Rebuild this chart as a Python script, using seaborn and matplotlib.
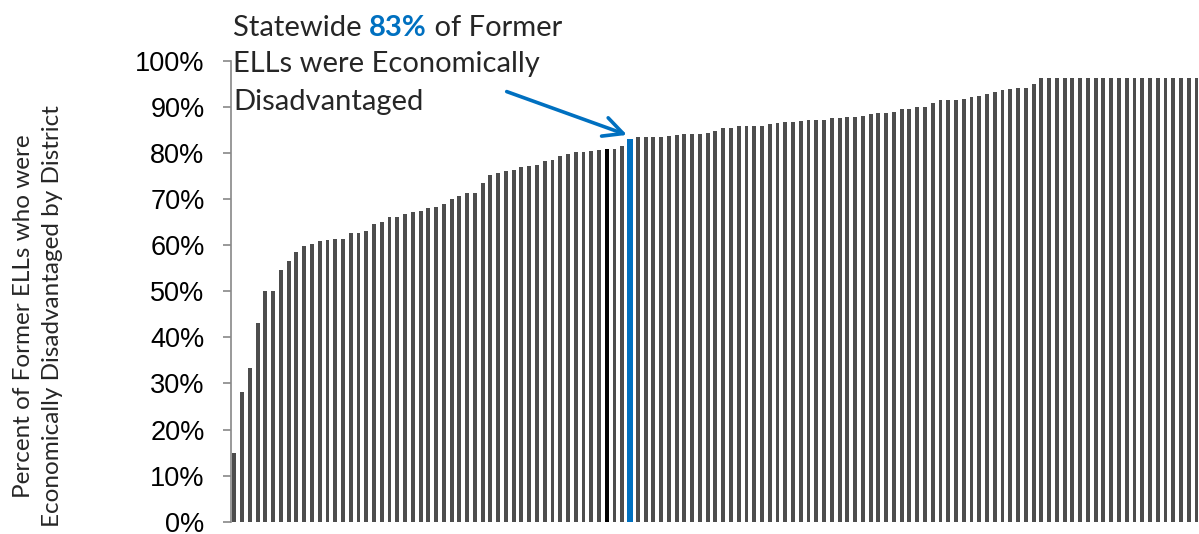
import pandas as pd
import seaborn as sns
from matplotlib import pyplot as plt
from matplotlib.ticker import PercentFormatter

# percent of former ELLs who were economically disadvantaged, districts sorted
districts_below = [15.0, 28.1, 33.3, 43.0, 50.0, 50.0, 54.5, 56.6, 58.6, 59.7,
                   60.2, 60.8, 61.1, 61.3, 61.3, 62.6, 62.6, 63.1, 64.5, 65.1,
                   66.1, 66.2, 66.8, 67.2, 67.5, 68.0, 68.3, 68.9, 69.9, 70.7,
                   71.2, 71.2, 73.5, 75.1, 75.7, 76.0, 76.2, 76.9, 77.2, 77.4,
                   78.2, 78.5, 79.3, 79.7, 80.2, 80.2, 80.5, 80.7, 80.9, 80.9,
                   81.6]
statewide_pct = 83.0
districts_above = [83.4, 83.4, 83.4, 83.4, 83.7, 83.9, 84.1, 84.1, 84.2, 84.4,
                   84.8, 85.5, 85.5, 85.9, 85.9, 85.9, 85.9, 86.2, 86.5, 86.7,
                   86.7, 86.9, 87.1, 87.1, 87.1, 87.5, 87.5, 87.7, 87.7, 88.0,
                   88.4, 88.7, 88.7, 88.9, 89.5, 89.5, 90.0, 90.0, 90.9, 91.5,
                   91.5, 91.5, 91.6, 92.2, 92.3, 92.8, 93.2, 93.7, 93.8, 94.1,
                   94.1, 94.9, 96.2, 96.2, 96.2, 96.2, 96.2, 96.2, 96.2, 96.2,
                   96.2, 96.2, 96.2, 96.2, 96.2, 96.2, 96.2, 96.2, 96.2, 96.2,
                   96.2, 96.2, 96.2]
highlighted_district = 48

GRAY = '#4d4d4d'
BLUE = '#0070C0'

values = districts_below + [statewide_pct] + districts_above
state_pos = len(districts_below)
names = ['d%03d' % i for i in range(len(values))]
df = pd.DataFrame({'district': names, 'pct': [v / 100 for v in values]})

colors = {}
for i, n in enumerate(names):
    if i == state_pos:
        colors[n] = BLUE
    elif i == highlighted_district:
        colors[n] = 'black'
    else:
        colors[n] = GRAY

sns.set_style('white')
plt.rcParams['font.family'] = ['Liberation Sans', 'DejaVu Sans']

fig = plt.figure(figsize=(11.99, 5.34), dpi=100)
ax = fig.add_axes([231 / 1199, 1 - 521.7 / 534, (1199 - 231) / 1199, (521.7 - 60.7) / 534])

sns.barplot(data=df, x='district', y='pct', hue='district', palette=colors,
            legend=False, width=0.5, saturation=1, linewidth=0, ax=ax)

# statewide bar is drawn a bit wider
p = ax.patches[state_pos]
p.set_width(0.7)
p.set_x(state_pos - 0.35)

ax.set_xlim(-0.43, len(values) - 0.68)
ax.set_ylim(0, 1)
ax.set_yticks([i / 10 for i in range(11)])
ax.yaxis.set_major_formatter(PercentFormatter(1.0, decimals=0))
ax.set_xticks([])
ax.set_xlabel('')
ax.set_ylabel('')
ax.tick_params(axis='y', left=True, length=6, width=1.2, color='#888888',
               pad=13, labelsize=19.5, labelcolor='black')
for s in ['top', 'right', 'bottom']:
    ax.spines[s].set_visible(False)
ax.spines['left'].set_color('#888888')
ax.spines['left'].set_linewidth(1.2)

fig.text(38 / 1199, 1 - 316 / 534,
         'Percent of Former ELLs who were\nEconomically Disadvantaged by District',
         rotation=90, ha='center', va='center', multialignment='center',
         fontsize=17.5, family='Lato', linespacing=1.5)

# annotation text
fs = 21
t1 = fig.text(233 / 1199, 1 - 36 / 534, 'Statewide ', fontsize=fs, family='Lato',
              va='baseline')
t2 = ax.annotate('83%', xy=(1, 0), xycoords=t1, va='bottom', ha='left',
                 fontsize=fs, family='Lato', weight='bold', color=BLUE)
ax.annotate(' of Former', xy=(1, 0), xycoords=t2, va='bottom', ha='left',
            fontsize=fs, family='Lato')
fig.text(233 / 1199, 1 - 72 / 534, 'ELLs were Economically', fontsize=fs,
         family='Lato', va='baseline')
fig.text(233 / 1199, 1 - 110 / 534, 'Disadvantaged', fontsize=fs,
         family='Lato', va='baseline')

ax.annotate('', xy=(50.6, 0.839), xytext=(35.1, 0.933),
            arrowprops=dict(arrowstyle='->,head_length=0.7,head_width=0.35',
                            color=BLUE, lw=2.6, mutation_scale=20,
                            shrinkA=0, shrinkB=0),
            annotation_clip=False)

fig.savefig('out.png', dpi=100)
